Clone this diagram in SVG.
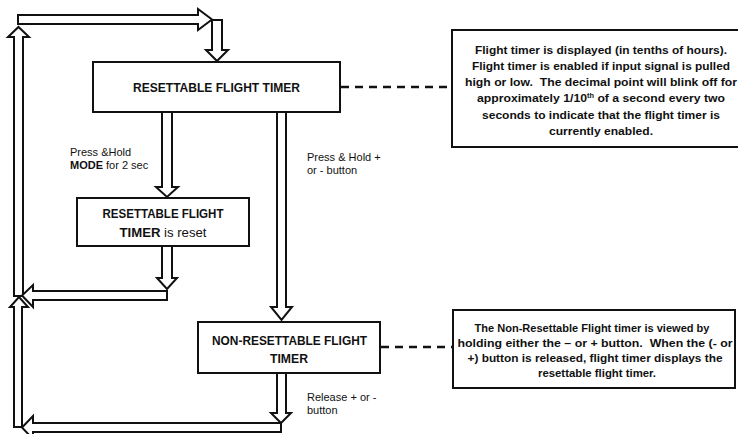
<svg xmlns="http://www.w3.org/2000/svg" width="738" height="434" viewBox="0 0 738 434">
<style>
.arrow{fill:#fff;stroke:#111;stroke-width:2;stroke-linejoin:miter}
.box{fill:#fff;stroke:#111;stroke-width:2}
.dash{fill:none;stroke:#111;stroke-width:2.5;stroke-dasharray:8,6}
.t{font-family:"Liberation Sans",Arial,sans-serif;fill:#111}
.bt{font-size:13px;font-weight:bold;text-anchor:middle}
.nt{font-size:11.5px;font-weight:bold;text-anchor:middle}
.lb{font-size:11px}
</style>
<rect width="738" height="434" fill="#fff"/>
<g id="connectors">
  <polygon class="arrow" points="14,296 14,37 8,37 18.5,27 29,37 23,37 23,296"/>
  <polygon class="arrow" points="18,15 198,15 198,9 212,19.5 198,30 198,24 18,24"/>
  <polygon class="arrow" points="212,20 222,20 222,50 228,50 217,61 206,50 212,50"/>
  <polygon class="arrow" points="162,112 172,112 172,187 178,187 167,197 156,187 162,187"/>
  <polygon class="arrow" points="162,246 172,246 172,278 177,278 167,289 157,278 162,278"/>
  <polygon class="arrow" points="167,291 167,300 33,300 33,307 22,295.5 33,285 33,291"/>
  <polygon class="arrow" points="14,427 14,307 10,307 19,297 28,307 22,307 22,427"/>
  <polygon class="arrow" points="277,112 286,112 286,307 292,307 281.5,320 271,307 277,307"/>
  <polygon class="arrow" points="277,373 286,373 286,413 291,413 281,423 271,413 277,413"/>
  <polygon class="arrow" points="281,423 281,432 33,432 33,439 22,427.5 33,416 33,423"/>
  <line class="dash" x1="341" y1="87" x2="450" y2="87"/>
  <line class="dash" x1="381" y1="347" x2="452" y2="347"/>
  <text class="t lb" x="70" y="156">Press &amp;Hold</text>
  <text class="t lb" x="70" y="169"><tspan font-weight="bold">MODE</tspan> for 2 sec</text>
  <text class="t lb" x="307" y="161">Press &amp; Hold +</text>
  <text class="t lb" x="307" y="174">or - button</text>
  <text class="t lb" x="307" y="401">Release + or -</text>
  <text class="t lb" x="307" y="414">button</text>
</g>
<g id="node-resettable">
  <rect class="box" x="93" y="62" width="247" height="50"/>
  <text class="t bt" x="216.5" y="91.5" textLength="167" lengthAdjust="spacingAndGlyphs">RESETTABLE FLIGHT TIMER</text>
</g>
<g id="node-reset">
  <rect class="box" x="77" y="198" width="172" height="48"/>
  <text class="t bt" x="163" y="217.5" textLength="121" lengthAdjust="spacingAndGlyphs">RESETTABLE FLIGHT</text>
  <text class="t bt" x="163" y="236.5" textLength="87" lengthAdjust="spacingAndGlyphs">TIMER <tspan font-weight="normal">is reset</tspan></text>
</g>
<g id="node-nonresettable">
  <rect class="box" x="198" y="322" width="182" height="51"/>
  <text class="t bt" x="289.5" y="344.5" textLength="155" lengthAdjust="spacingAndGlyphs">NON-RESETTABLE FLIGHT</text>
  <text class="t bt" x="289" y="362.5" textLength="38" lengthAdjust="spacingAndGlyphs">TIMER</text>
</g>
<g id="note-1">
  <rect class="box" x="452" y="30" width="290" height="117" stroke-width="2.5"/>
  <text class="t nt" x="601" y="54" textLength="252" lengthAdjust="spacingAndGlyphs">Flight timer is displayed (in tenths of hours).</text>
  <text class="t nt" x="601" y="70" textLength="258" lengthAdjust="spacingAndGlyphs">Flight timer is enabled if input signal is pulled</text>
  <text class="t nt" x="601" y="86" textLength="272" lengthAdjust="spacingAndGlyphs" xml:space="preserve">high or low.  The decimal point will blink off for</text>
  <text class="t nt" x="601" y="102" textLength="248" lengthAdjust="spacingAndGlyphs">approximately 1/10<tspan font-size="7" dy="-4">th</tspan><tspan dy="4"> of a second every two</tspan></text>
  <text class="t nt" x="601" y="119" textLength="238" lengthAdjust="spacingAndGlyphs">seconds to indicate that the flight timer is</text>
  <text class="t nt" x="601" y="135" textLength="104" lengthAdjust="spacingAndGlyphs">currently enabled.</text>
</g>
<g id="note-2">
  <rect class="box" x="453" y="310" width="282" height="78" stroke-width="2.5"/>
  <text class="t nt" x="592" y="332" textLength="235" lengthAdjust="spacingAndGlyphs">The Non-Resettable Flight timer is viewed by</text>
  <text class="t nt" x="595" y="347" textLength="275" lengthAdjust="spacingAndGlyphs" xml:space="preserve">holding either the – or + button.  When the (- or</text>
  <text class="t nt" x="595" y="362" textLength="255" lengthAdjust="spacingAndGlyphs">+) button is released, flight timer displays the</text>
  <text class="t nt" x="597" y="377" textLength="118" lengthAdjust="spacingAndGlyphs">resettable flight timer.</text>
</g>
</svg>
